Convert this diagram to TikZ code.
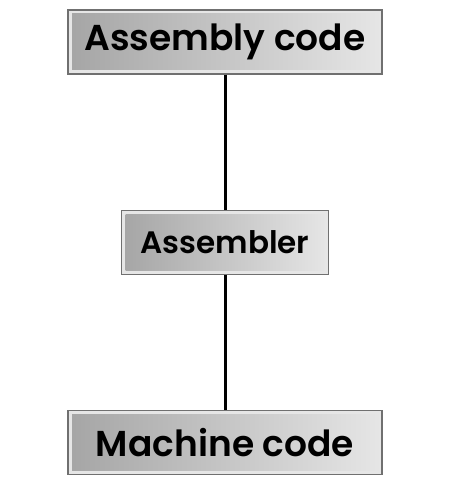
\documentclass[tikz,border=0pt]{standalone}
\usepackage{fontspec}
\setsansfont{Poppins}[BoldFont={Poppins SemiBold}]
\usetikzlibrary{positioning}
\definecolor{boxedge}{RGB}{112,112,112}
\definecolor{boxdark}{RGB}{165,165,165}
\definecolor{boxlight}{RGB}{230,230,230}

\begin{document}
\begin{tikzpicture}[x=1pt,y=1pt,box/.style={draw=boxedge,line width=1.2pt,fill=boxlight,minimum height=64pt,inner sep=0pt,font=\sffamily\bfseries\fontsize{36}{40}\selectfont,path picture={\shade[left color=boxdark,right color=boxlight]([shift={(4pt,-4pt)}]path picture bounding box.north west) rectangle ([shift={(-4pt,4pt)}]path picture bounding box.south east);}},link/.style={line width=3pt,draw=black}]
\useasboundingbox (0,0) rectangle (453,480);
\node[box,minimum width=314pt] (asmcode) at (225,438) {Assembly code};
\node[box,minimum width=207pt,font=\sffamily\bfseries\fontsize{31}{36}\selectfont,below=135pt of asmcode] (assembler) {Assembler};
\node[box,minimum width=314pt,below=135pt of assembler] (machcode) {Machine code};
\draw[link](asmcode)--(assembler);\draw[link](assembler)--(machcode);
\end{tikzpicture}
\end{document}
